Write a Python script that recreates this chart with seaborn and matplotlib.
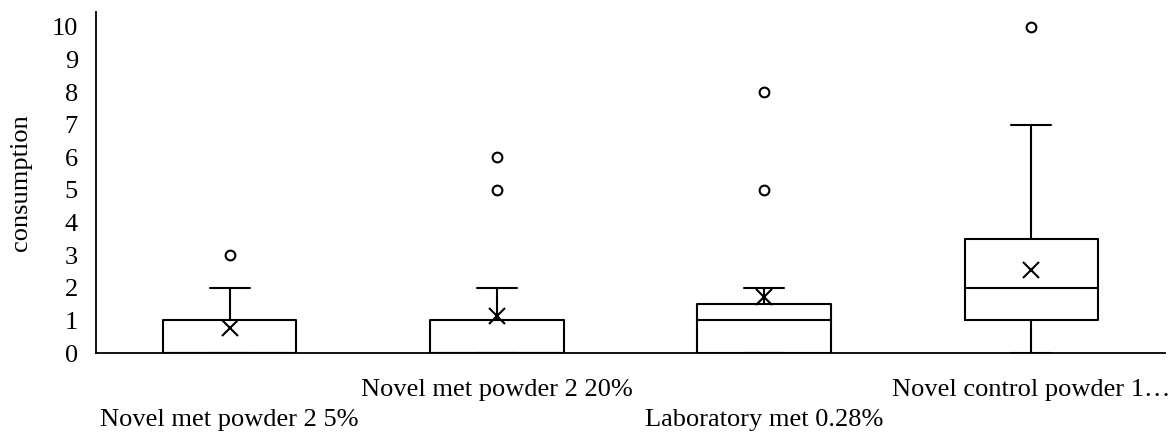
import matplotlib
matplotlib.use("Agg")
import matplotlib.pyplot as plt
import seaborn as sns
import pandas as pd

# Categories (x-axis labels)
categories = [
    "Novel met powder 2 5%",
    "Novel met powder 2 20%",
    "Laboratory met 0.28%",
    "Novel control powder 1…",
]

# Observed consumption values per group (read to match the box statistics)
met_5 = [0, 0, 0, 0, 0, 0, 0, 1, 1, 1, 2, 2, 3]
met_20 = [0, 0, 0, 0, 0, 0, 0, 0, 1, 1, 1, 2, 5, 6]
lab_028 = [0, 0, 0, 0, 1, 1, 1, 1, 2, 5, 8]
control_1 = [0, 0, 0, 1, 1, 1, 1, 2, 2, 2, 3, 4, 4, 7, 10]

y_ticks = [0, 1, 2, 3, 4, 5, 6, 7, 8, 9, 10]
y_label = "consumption"

groups = [met_5, met_20, lab_028, control_1]
df = pd.DataFrame({
    "group": [c for c, g in zip(categories, groups) for _ in g],
    "consumption": [v for g in groups for v in g],
})

sns.set_style("white")
plt.rcParams["font.family"] = ["Liberation Serif", "DejaVu Serif"]

fig = plt.figure(figsize=(11.76, 4.34), dpi=100)
ax = fig.add_axes([96 / 1176, 81 / 434, (1165 - 96) / 1176, (422 - 81) / 434])

lw = 1.5
sns.boxplot(
    data=df, x="group", y="consumption", order=categories,
    fill=False, color="black", linecolor="black", linewidth=lw,
    width=0.5, whis=1.5, ax=ax,
    showmeans=True,
    meanprops=dict(marker="x", markersize=12, markeredgecolor="black",
                   markeredgewidth=1.5, markerfacecolor="none"),
    flierprops=dict(marker="o", markersize=7, markerfacecolor="white",
                    markeredgecolor="black", markeredgewidth=1.5),
    capwidths=0.15,
)

ax.set_ylim(0, 10.46)
ax.set_yticks(y_ticks)
ax.set_xlim(-0.5, 3.5)
ax.set_xlabel("")
ax.set_ylabel(y_label, fontsize=19, color="black")
ax.yaxis.set_label_coords(-0.060, 0.5)

for s in ["top", "right"]:
    ax.spines[s].set_visible(False)
for s in ["left", "bottom"]:
    ax.spines[s].set_color("black")
    ax.spines[s].set_linewidth(1.3)

ax.tick_params(axis="both", length=0, colors="black")
ax.tick_params(axis="y", labelsize=19, pad=13)
ax.tick_params(axis="x", labelsize=19)
for i, tick in enumerate(ax.xaxis.get_major_ticks()):
    tick.set_pad(19 if i % 2 == 1 else 40)

fig.savefig("out.png", dpi=100)
